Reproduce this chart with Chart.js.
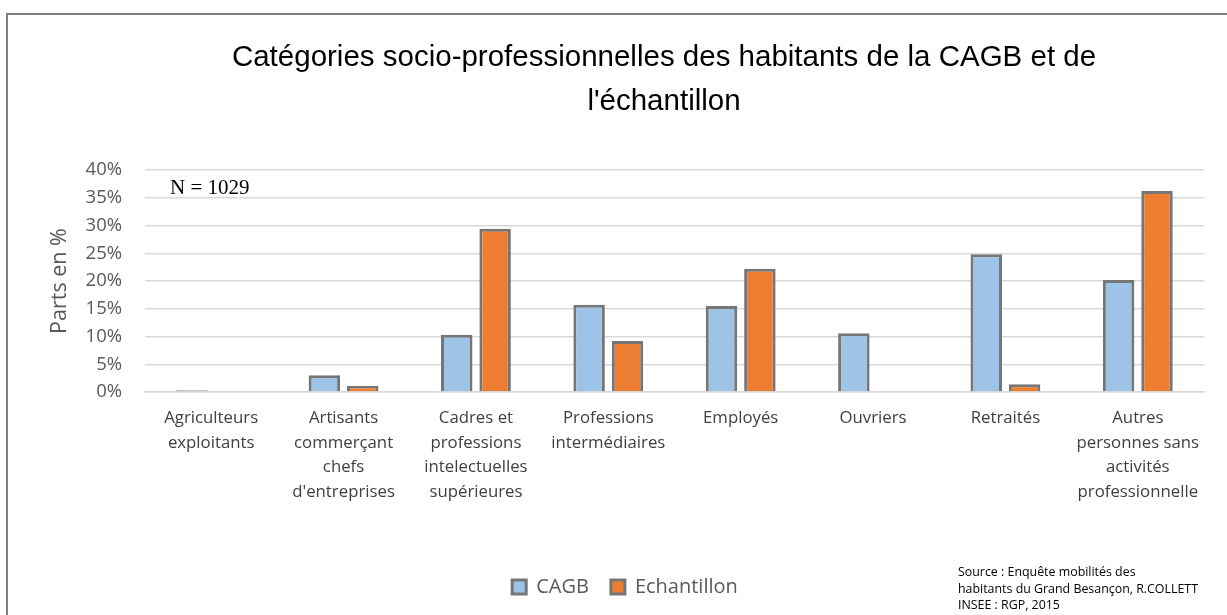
<!DOCTYPE html>
<html>
<head>
<meta charset="utf-8">
<script src="https://cdn.jsdelivr.net/npm/chart.js@4/dist/chart.umd.min.js"></script>
<style>
  html, body { margin: 0; padding: 0; background: #fff; overflow: hidden; }
  body { width: 1227px; height: 615px; position: relative; }
  #frame { position: absolute; left: 6px; top: 13px; width: 1400px; height: 800px; border: 2px solid #808080; box-sizing: border-box; }
  #title { position: absolute; left: 0; top: 34px; width: 1328px; text-align: center;
           font-family: "Liberation Sans", Arial, sans-serif; font-size: 29.5px; line-height: 44px; color: #000; }
  #wrap { position: absolute; left: 10px; top: 0; width: 1227px; height: 615px; }
  #note { position: absolute; left: 170px; top: 176px; line-height: 23px; font-family: "Liberation Serif", "Times New Roman", serif; font-size: 21px; color: #000; }
  #source { position: absolute; left: 958px; top: 564px; font-family: "Open Sans", Lato, sans-serif; font-size: 12.4px; line-height: 16.5px; color: #000; }
</style>
</head>
<body>
<div id="frame"></div>
<div id="wrap"><canvas id="chart" width="1227" height="615"></canvas></div>
<div id="title">Catégories socio-professionnelles des habitants de la CAGB et de<br>l'échantillon</div>
<div id="note">N = 1029</div>
<div id="source">Source : Enquête mobilités des<br>habitants du Grand Besançon, R.COLLETT<br>INSEE : RGP, 2015</div>

<script>
// categories (multi-line labels as in the original)
const categories = [
    ['Agriculteurs', 'exploitants'],
    ['Artisants', 'commerçant', 'chefs', "d'entreprises"],
    ['Cadres et', 'professions', 'intelectuelles', 'supérieures'],
    ['Professions', 'intermédiaires'],
    ['Employés'],
    ['Ouvriers'],
    ['Retraités'],
    ['Autres', 'personnes sans', 'activités', 'professionnelle']
];

// parts en %
const cagb        = [0.3, 3.0, 10.3, 15.7, 15.5, 10.6, 24.8, 20.2];
const echantillon = [0,   1.1, 29.4,  9.2, 22.2,  0,    1.4, 36.2];

const yTicks = [0, 5, 10, 15, 20, 25, 30, 35, 40];

const uiFont = '"Open Sans", Lato, sans-serif';

window.addEventListener('DOMContentLoaded', () => {
    const ctx = document.getElementById('chart');

    new Chart(ctx, {
        type: 'bar',
        data: {
            labels: categories,
            datasets: [
                {
                    label: 'CAGB',
                    data: cagb,
                    backgroundColor: '#9dc3e6',
                    borderColor: '#767676',
                    borderWidth: 3
                },
                {
                    label: 'Echantillon',
                    data: echantillon,
                    backgroundColor: '#ed7d31',
                    borderColor: '#767676',
                    borderWidth: 3
                }
            ]
        },
        options: {
            responsive: false,
            animation: false,
            layout: { padding: { top: 170, right: 33, bottom: 8, left: 36 } },
            datasets: {
                bar: { categoryPercentage: 0.58, barPercentage: 0.82 }
            },
            plugins: {
                title: { display: false },
                tooltip: { enabled: false },
                legend: {
                    position: 'bottom',
                    labels: {
                        boxWidth: 14,
                        boxHeight: 14,
                        padding: 22,
                        color: '#595959',
                        font: { family: uiFont, size: 20 }
                    }
                }
            },
            scales: {
                x: {
                    afterFit: (scale) => { scale.height = 163; },
                    grid: { display: false, drawTicks: false },
                    border: { color: '#d9d9d9', width: 1.5 },
                    ticks: {
                        autoSkip: false,
                        maxRotation: 0,
                        padding: 14,
                        color: '#404040',
                        font: { family: uiFont, size: 16.8, lineHeight: '24.5px' }
                    }
                },
                y: {
                    min: 0,
                    max: 40,
                    afterFit: (scale) => { scale.width = 99; },
                    afterBuildTicks: (scale) => { scale.ticks = yTicks.map(v => ({ value: v })); },
                    grid: { color: '#d9d9d9', lineWidth: 1.5, drawTicks: false },
                    border: { display: false },
                    ticks: {
                        padding: 23,
                        color: '#595959',
                        font: { family: uiFont, size: 18.5 },
                        callback: (v) => v + '%'
                    },
                    title: {
                        display: true,
                        text: 'Parts en %',
                        color: '#595959',
                        padding: { top: 1, bottom: 0 },
                        font: { family: uiFont, size: 21.5 }
                    }
                }
            }
        }
    });
});
</script>
</body>
</html>
